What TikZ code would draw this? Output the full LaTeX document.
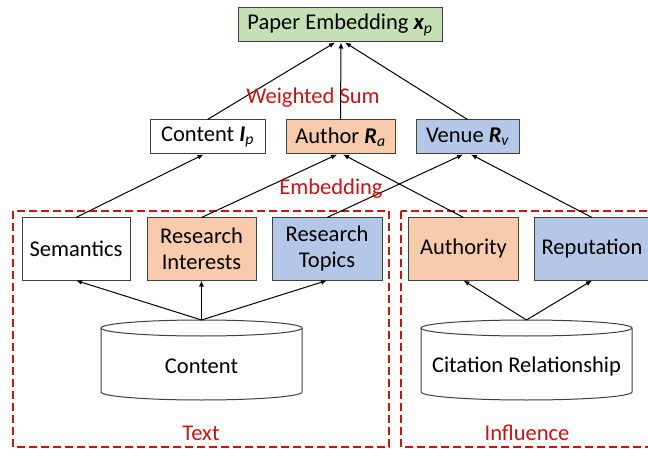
\documentclass[tikz,border=0pt]{standalone}
\usepackage{fontspec}
\setmainfont{Carlito}
\usetikzlibrary{arrows.meta}
\definecolor{boxgreen}{RGB}{197,224,180}
\definecolor{boxorange}{RGB}{248,203,173}
\definecolor{boxblue}{RGB}{180,199,231}
\definecolor{linegray}{RGB}{64,64,64}
\definecolor{groupred}{RGB}{200,20,20}

\tikzset{
pics/store/.style args={#1/#2}{
code={
\draw[line width=1pt,draw=linegray,fill=white] (-#2,-32) -- (-#2,32)
  arc[start angle=180,end angle=360,x radius=#2pt,y radius=8pt] -- (#2,-32);
\draw[line width=1pt,draw=linegray] (0,-32) ellipse[x radius=#2pt,y radius=8pt];
\coordinate (#1-top) at (0,-40);
}},
featbox/.style={
draw=linegray,line width=1pt,minimum height=62pt,align=center,
inner sep=0pt,font=\fontsize{22.5}{26}\selectfont
},
vecbox/.style={
draw=linegray,line width=1pt,minimum height=34pt,
inner sep=0pt,font=\fontsize{22.5}{26}\selectfont
},
groupframe/.style={draw=groupred,line width=1.5pt,dash pattern=on 8pt off 4pt},
grouplabel/.style={text=groupred,font=\fontsize{22.5}{26}\selectfont},
arrow/.style={line width=1pt,-{Latex[length=6pt,width=5pt]}},
}

\begin{document}
\begin{tikzpicture}[x=1pt,y=-1pt]
\useasboundingbox (0,0) rectangle (648,449);
\clip (0,0) rectangle (648,449);
% the two groups
\draw[groupframe] (13,211) rectangle (389,447);
\draw[groupframe] (401,211) rectangle (660,447);
\node[grouplabel] (text) at (201,433) {Text};
\node[grouplabel] (infl) at (527,433) {Influence};
% sources
\pic at (201.5,360) {store=cont/100.5};
\pic at (526.5,360) {store=cite/105.5};
\node[font=\fontsize{22.5}{26}\selectfont] (cont) at (201.5,366) {Content};
\node[font=\fontsize{22.5}{26}\selectfont] (cite) at (526.5,366) {Citation Relationship};
% features
\node[featbox,minimum width=108pt] (sem) at (76,249) {Semantics};
\node[featbox,minimum width=109pt,fill=boxorange] (ri) at (201.5,249) {Research\\Interests};
\node[featbox,minimum width=110pt,fill=boxblue] (rt) at (327,249) {Research\\Topics};
\node[featbox,minimum width=110pt,fill=boxorange] (auth) at (463.5,249) {Authority};
\node[featbox,minimum width=116pt,fill=boxblue] (rep) at (592,249) {Reputation};
% vectors
\node[vecbox,minimum width=115pt] (ip) at (207.5,137) {Content {\bfseries\itshape I}\textsubscript{\itshape p}};
\node[vecbox,minimum width=109pt,fill=boxorange] (ra) at (340.5,137) {Author {\bfseries\itshape R}\textsubscript{\itshape a}};
\node[vecbox,minimum width=103pt,fill=boxblue] (rv) at (467.5,137) {Venue {\bfseries\itshape R}\textsubscript{\itshape v}};
\node[vecbox,minimum width=204pt,fill=boxgreen] (paper) at (340,25) {Paper Embedding {\bfseries\itshape x}\textsubscript{\itshape p}};
\begin{scope}[arrow]
\foreach \t in {sem,ri,rt}
  \draw (cont-top) -- (\t.south);
\foreach \t in {auth,rep}
  \draw (cite-top) -- (\t.south);
\draw (sem.north) -- ([xshift=-4pt]ip.south);
\draw (ri.north) -- ([xshift=-3.5pt]ra.south);
\draw (auth.north) -- ([xshift=2.5pt]ra.south);
\draw (rt.north) -- ([xshift=-4.5pt]rv.south);
\draw (rep.north) -- ([xshift=3.5pt]rv.south);
\draw (ip.north) -- ([xshift=-5pt]paper.south);
\draw (ra.north) -- ([xshift=1pt]paper.south);
\draw (rv.north) -- ([xshift=5pt]paper.south);
\end{scope}
\node[grouplabel] (wsum) at (313,98) {Weighted Sum};
\node[grouplabel] (emb) at (331,189) {Embedding};
\end{tikzpicture}
\end{document}
